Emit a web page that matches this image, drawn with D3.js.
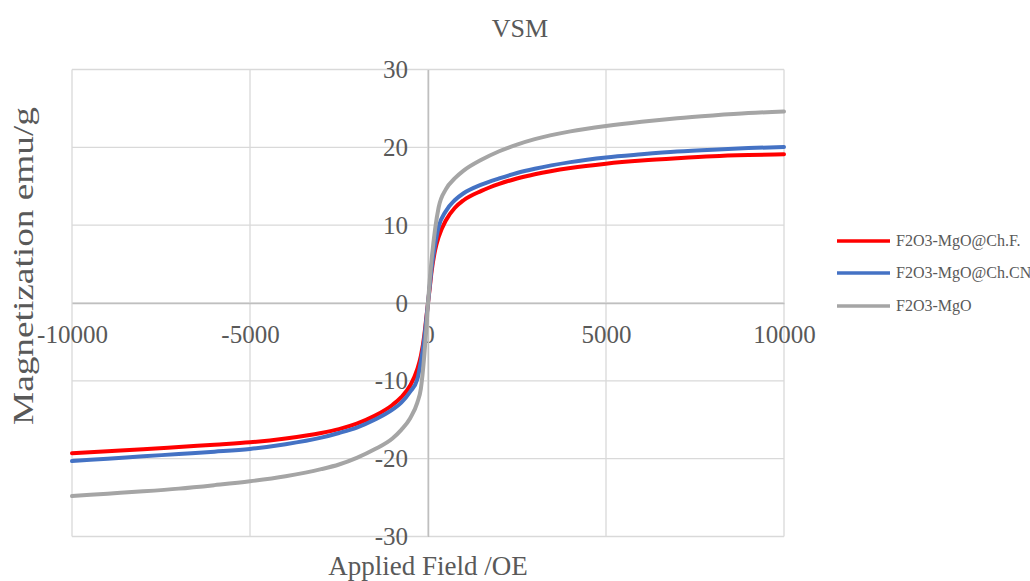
<!DOCTYPE html>
<html>
<head>
<meta charset="utf-8">
<script src="https://cdn.jsdelivr.net/npm/d3@7"></script>
<style>
  html, body { margin: 0; padding: 0; background: #fff; }
  svg { display: block; }
  svg text { font-family: "Liberation Serif", "Times New Roman", serif; }
</style>
</head>
<body>
<svg id="chart" width="1030" height="581"></svg>
<script>
// ---- Data ----
const field = [-10000,-9000,-8000,-7000,-6000,-5000,-4000,-3000,-2500,-2000,-1500,-1000,-750,-500,-300,-200,-100,-50,0,
               50,100,200,300,500,750,1000,1500,2000,2500,3000,4000,5000,6000,7000,8000,9000,10000];
const seriesNames = ["F2O3-MgO@Ch.F.", "F2O3-MgO@Ch.CN", "F2O3-MgO"];
const magChF = [-19.3,-19.05,-18.8,-18.5,-18.2,-17.9,-17.4,-16.7,-16.2,-15.5,-14.5,-13.1,-12.1,-10.6,-8.5,-6.8,-4.0,-2.0,0,
                2.0,4.0,6.8,8.5,10.6,12.2,13.2,14.4,15.3,16.0,16.55,17.35,17.9,18.3,18.6,18.85,19.0,19.1];
const magChCN = [-20.3,-20.0,-19.7,-19.4,-19.1,-18.75,-18.15,-17.3,-16.7,-16.0,-15.0,-13.7,-12.8,-11.4,-9.8,-7.5,-4.4,-2.2,0,
                 2.2,4.4,7.5,9.8,11.8,13.2,14.1,15.2,16.0,16.7,17.25,18.1,18.7,19.1,19.45,19.7,19.9,20.05];
const magMgO = [-24.8,-24.5,-24.2,-23.85,-23.4,-22.9,-22.25,-21.35,-20.75,-19.9,-18.8,-17.4,-16.3,-14.8,-12.8,-11.0,-6.5,-3.5,0,
                3.0,5.5,9.5,12.3,14.6,16.0,17.0,18.4,19.5,20.35,21.05,22.05,22.75,23.3,23.75,24.1,24.4,24.6];
const xTicks = [-10000,-5000,0,5000,10000];
const yTicks = [-30,-20,-10,0,10,20,30];
const colors = ["#FF0000", "#4472C4", "#A5A5A5"];

// ---- Layout ----
const svg = d3.select("#chart");
const x = d3.scaleLinear().domain([-10000, 10000]).range([72, 784]);
const y = d3.scaleLinear().domain([-30, 30]).range([536.5, 69.5]);
const textColor = "#595959";
const serif = "Liberation Serif, Times New Roman, serif";
const fmt = d => String(d);

// gridlines
const grid = svg.append("g");
grid.selectAll("line.v").data(xTicks).join("line")
  .attr("x1", d => x(d)).attr("x2", d => x(d))
  .attr("y1", y(30)).attr("y2", y(-30))
  .attr("stroke", "#d9d9d9").attr("stroke-width", 1.3);
grid.selectAll("line.h").data(yTicks).join("line")
  .attr("x1", x(-10000)).attr("x2", x(10000))
  .attr("y1", d => y(d)).attr("y2", d => y(d))
  .attr("stroke", "#d9d9d9").attr("stroke-width", 1.3);

// axes through origin
const xAxis = svg.append("g")
  .attr("transform", `translate(0,${y(0)})`)
  .call(d3.axisBottom(x).tickValues(xTicks).tickSize(0).tickPadding(22).tickFormat(fmt));
xAxis.attr("font-family", serif);
xAxis.select(".domain").attr("stroke", "#bfbfbf").attr("stroke-width", 1.5);
xAxis.selectAll("text").attr("fill", textColor).attr("font-size", 25);

const yAxis = svg.append("g")
  .attr("transform", `translate(${x(0)},0)`)
  .call(d3.axisLeft(y).tickValues(yTicks).tickSize(0).tickPadding(20).tickFormat(fmt));
yAxis.attr("font-family", serif);
yAxis.select(".domain").attr("stroke", "#bfbfbf").attr("stroke-width", 1.5);
yAxis.selectAll("text").attr("fill", textColor).attr("font-size", 25);

// series
const allSeries = [magChF, magChCN, magMgO];
const line = d3.line().x((d, i) => x(field[i])).y(d => y(d)).curve(d3.curveMonotoneX);
svg.append("g").selectAll("path").data(allSeries).join("path")
  .attr("d", d => line(d))
  .attr("fill", "none")
  .attr("stroke", (d, i) => colors[i])
  .attr("stroke-width", 4)
  .attr("stroke-linejoin", "round")
  .attr("stroke-linecap", "round");

// title
svg.append("text").attr("x", 520).attr("y", 37).attr("text-anchor", "middle")
  .attr("font-size", 26).attr("fill", textColor).text("VSM");

// axis titles
svg.append("text").attr("x", 428).attr("y", 575).attr("text-anchor", "middle")
  .attr("font-size", 27).attr("fill", textColor).text("Applied Field /OE");
svg.append("text").attr("transform", `translate(33,266) rotate(-90)`)
  .attr("text-anchor", "middle")
  .attr("font-size", 30).attr("fill", textColor)
  .attr("textLength", 318).attr("lengthAdjust", "spacingAndGlyphs")
  .text("Magnetization emu/g");

// legend
const legend = svg.append("g").attr("font-family", serif);
const legendY = [241, 273, 306];
seriesNames.forEach((name, i) => {
  legend.append("line").attr("x1", 837).attr("x2", 890)
    .attr("y1", legendY[i]).attr("y2", legendY[i])
    .attr("stroke", colors[i]).attr("stroke-width", 3.5);
  legend.append("text").attr("x", 896).attr("y", legendY[i]).attr("dy", "0.33em")
    .attr("font-size", 16).attr("fill", textColor).text(name);
});
</script>
</body>
</html>
